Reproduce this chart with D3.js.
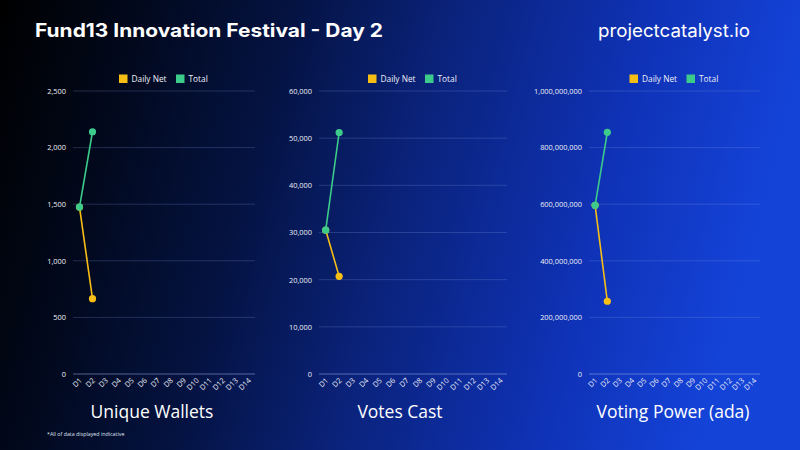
<!DOCTYPE html>
<html><head><meta charset="utf-8">
<script src="https://cdn.jsdelivr.net/npm/d3@7"></script>
<style>html,body{margin:0;padding:0;background:#000;}svg{display:block;}</style>
</head><body>
<svg id="c" width="800" height="450"></svg>
<script>
const categories = ["D1","D2","D3","D4","D5","D6","D7","D8","D9","D10","D11","D12","D13","D14"];
const seriesNames = ["Daily Net","Total"];
const walletsDaily = [1475, 665];
const walletsTotal = [1475, 2140];
const votesDaily = [30500, 20700];
const votesTotal = [30500, 51200];
const powerDaily = [596000000, 257000000];
const powerTotal = [596000000, 854000000];
const walletsTicks = [0, 500, 1000, 1500, 2000, 2500];
const votesTicks = [0, 10000, 20000, 30000, 40000, 50000, 60000];
const powerTicks = [0, 200000000, 400000000, 600000000, 800000000, 1000000000];
const chartTitles = ["Unique Wallets", "Votes Cast", "Voting Power (ada)"];

const colors = {"Daily Net": "#f7bf16", "Total": "#3ccb8a"};
const svg = d3.select("#c");

// background gradient
const defs = svg.append("defs");
const g = defs.append("linearGradient").attr("id","bg").attr("x1","0").attr("y1","0").attr("x2","1").attr("y2","0.15");
[[0,"#000000"],[0.12,"#010613"],[0.35,"#04123f"],[0.55,"#0a2279"],[0.8,"#0f32b6"],[1,"#1443d8"]].forEach(s=>g.append("stop").attr("offset",s[0]).attr("stop-color",s[1]));
svg.append("rect").attr("width",800).attr("height",450).attr("fill","url(#bg)");

svg.append("text").attr("x",35).attr("y",37).attr("fill","#fff")
  .attr("font-family","Inter, 'Open Sans', sans-serif").attr("font-weight",700).attr("font-size",18.5)
  .attr("textLength",348).attr("lengthAdjust","spacingAndGlyphs")
  .text("Fund13 Innovation Festival - Day 2");
svg.append("text").attr("x",598).attr("y",37).attr("fill","#fff")
  .attr("font-family","Inter, 'Open Sans', sans-serif").attr("font-weight",400).attr("font-size",18)
  .attr("textLength",152).attr("lengthAdjust","spacingAndGlyphs")
  .text("projectcatalyst.io");

const panels = [
  {daily: walletsDaily, total: walletsTotal, ticks: walletsTicks, x0: 73, x1: 255, titleX: 152},
  {daily: votesDaily, total: votesTotal, ticks: votesTicks, x0: 319, x1: 507, titleX: 400},
  {daily: powerDaily, total: powerTotal, ticks: powerTicks, x0: 589, x1: 760, titleX: 673}
];
const yTop = 91, yBot = 374;
const fmt = d3.format(",");

panels.forEach((p, i) => {
  const x = d3.scaleBand().domain(categories).range([p.x0, p.x1]);
  const y = d3.scaleLinear().domain([0, d3.max(p.ticks)]).range([yBot, yTop]);
  const gp = svg.append("g");

  // grid
  gp.selectAll("line.grid").data(p.ticks).join("line")
    .attr("x1", p.x0).attr("x2", p.x1)
    .attr("y1", d => y(d)).attr("y2", d => y(d))
    .attr("stroke", d => d === 0 ? "rgba(150,170,230,0.55)" : "rgba(140,160,230,0.24)")
    .attr("stroke-width", 1);

  // y axis labels
  const yAxis = d3.axisLeft(y).tickValues(p.ticks).tickFormat(fmt).tickSize(0).tickPadding(7);
  const ya = gp.append("g").attr("transform", `translate(${p.x0},0)`).call(yAxis);
  ya.select(".domain").remove();
  ya.selectAll("text").attr("fill","#eef0f8").attr("font-family","'Open Sans', sans-serif").attr("font-size",7.4);

  // x axis labels
  const xAxis = d3.axisBottom(x).tickSize(0).tickPadding(0);
  const xa = gp.append("g").attr("transform", `translate(0,${yBot})`).call(xAxis);
  xa.select(".domain").remove();
  xa.selectAll("text").attr("fill","#eef0f8").attr("font-family","'Open Sans', sans-serif").attr("font-size",7.4)
    .attr("text-anchor","end").attr("dy",0).attr("y",0)
    .attr("transform","translate(3,7) rotate(-45)");

  // lines
  const cx = d => x(d[0]) + x.bandwidth()/2;
  const mk = arr => arr.map((v, k) => [categories[k], v]);
  const line = d3.line().x(cx).y(d => y(d[1]));
  [["Daily Net", p.daily], ["Total", p.total]].forEach(([name, vals]) => {
    const pts = mk(vals);
    gp.append("path").datum(pts).attr("d", line).attr("fill","none")
      .attr("stroke", colors[name]).attr("stroke-width", 1.6);
    gp.selectAll(null).data(pts).join("circle")
      .attr("cx", cx).attr("cy", d => y(d[1])).attr("r", 3.6).attr("fill", colors[name]);
  });

  // legend
  const cxL = (p.x0 + p.x1) / 2;
  const lg = gp.append("g").attr("transform", `translate(${cxL - 45},79)`);
  const items = [{n:"Daily Net", off:0}, {n:"Total", off:57}];
  items.forEach(it => {
    lg.append("rect").attr("x", it.off).attr("y", -4.5).attr("width", 8.5).attr("height", 8.5).attr("fill", colors[it.n]);
    lg.append("text").attr("x", it.off + 12.5).attr("y", 2.8).attr("fill","#eef0f8")
      .attr("font-family","'Open Sans', sans-serif").attr("font-size",8.3).text(it.n);
  });

  // title
  svg.append("text").attr("x", p.titleX).attr("y", 418).attr("text-anchor","middle")
    .attr("fill","#fff").attr("font-family","'Open Sans', sans-serif").attr("font-size",17.5)
    .text(chartTitles[i]);
});

svg.append("text").attr("x",47).attr("y",436).attr("fill","#dfe3f0")
  .attr("font-family","'Open Sans', sans-serif").attr("font-size",5.3)
  .text("*All of data displayed indicative");
</script>
</body></html>
